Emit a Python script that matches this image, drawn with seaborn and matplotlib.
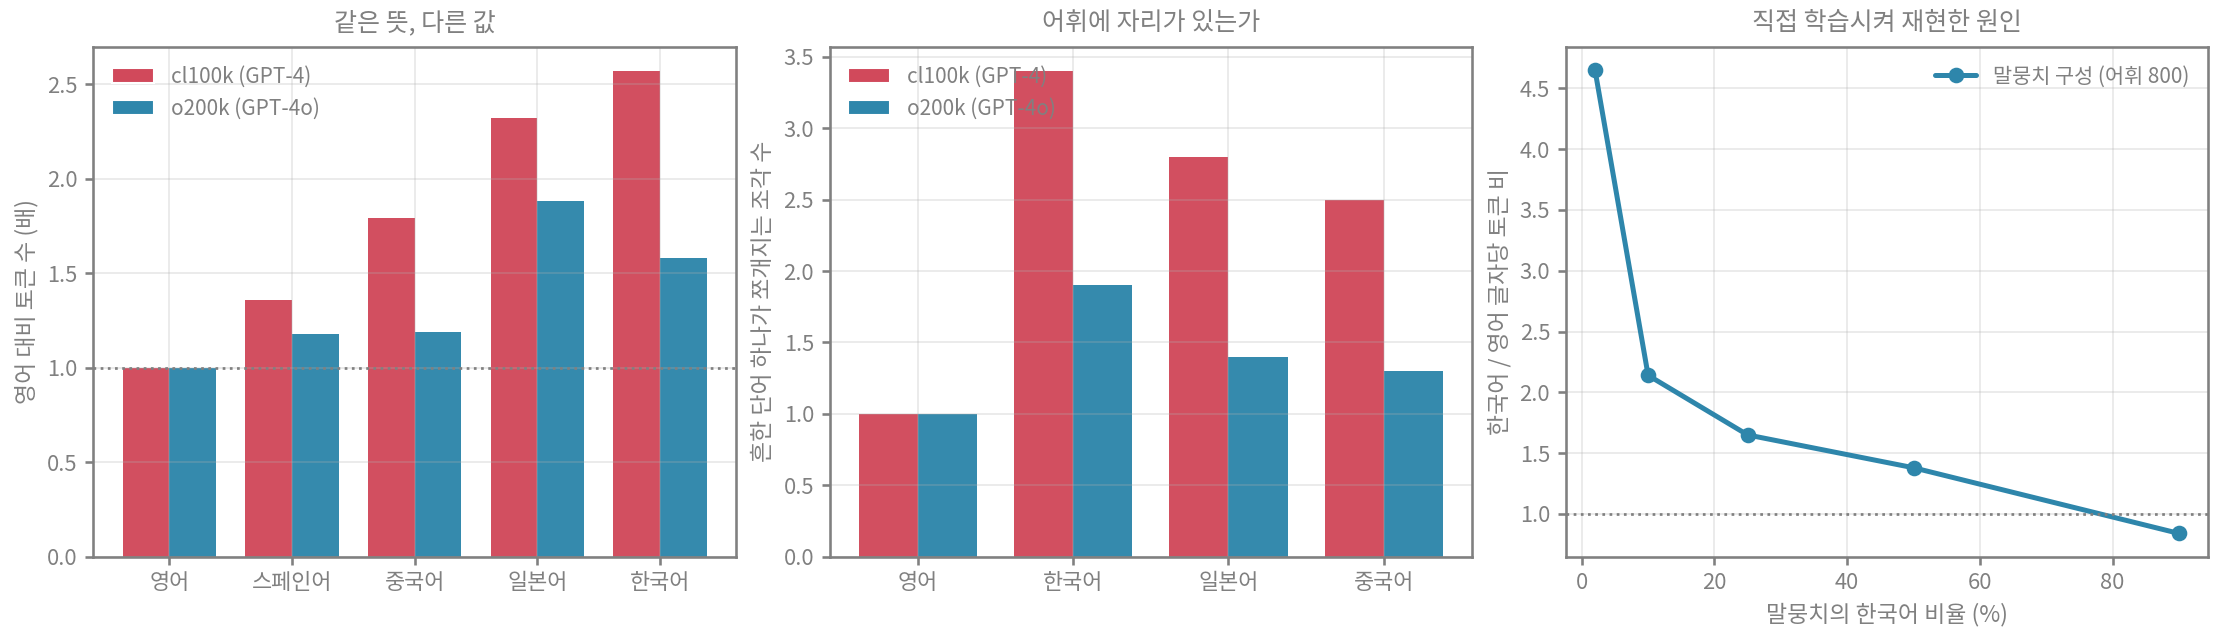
import matplotlib
matplotlib.use("Agg")
import matplotlib.pyplot as plt
import numpy as np
import pandas as pd
import seaborn as sns

# data
langs1 = ["영어", "스페인어", "중국어", "일본어", "한국어"]
cl100k_ratio = [1.00, 1.36, 1.79, 2.32, 2.57]
o200k_ratio = [1.00, 1.18, 1.19, 1.88, 1.58]

langs2 = ["영어", "한국어", "일본어", "중국어"]
cl100k_pieces = [1.0, 3.4, 2.8, 2.5]
o200k_pieces = [1.0, 1.9, 1.4, 1.3]

ko_share = [2, 10, 25, 50, 90]
ko_en_ratio = [4.65, 2.14, 1.65, 1.38, 0.84]

tok_names = ["cl100k (GPT-4)", "o200k (GPT-4o)"]
RED = "#d1495b"
BLUE = "#2e86ab"
GRAY = "#808080"

sns.set_theme(style="ticks")
plt.rcParams["font.family"] = ["Noto Sans CJK KR", "DejaVu Sans"]
plt.rcParams.update({
    "text.color": GRAY,
    "axes.labelcolor": GRAY,
    "axes.titlecolor": GRAY,
    "xtick.color": GRAY,
    "ytick.color": GRAY,
    "axes.edgecolor": GRAY,
    "axes.axisbelow": "line",
    "axes.titlesize": 12,
    "axes.labelsize": 11,
    "xtick.labelsize": 10.5,
    "ytick.labelsize": 10.5,
    "legend.fontsize": 10,
    "xtick.major.size": 4,
    "ytick.major.size": 4,
})

df1 = pd.DataFrame({
    "lang": langs1 * 2,
    "val": cl100k_ratio + o200k_ratio,
    "tok": [tok_names[0]] * len(langs1) + [tok_names[1]] * len(langs1),
})
df2 = pd.DataFrame({
    "lang": langs2 * 2,
    "val": cl100k_pieces + o200k_pieces,
    "tok": [tok_names[0]] * len(langs2) + [tok_names[1]] * len(langs2),
})

fig, axes = plt.subplots(1, 3, figsize=(14.84, 4.28), dpi=150)

for ax, df, title, ylabel in [
    (axes[0], df1, "같은 뜻, 다른 값", "영어 대비 토큰 수 (배)"),
    (axes[1], df2, "어휘에 자리가 있는가", "흔한 단어 하나가 쪼개지는 조각 수"),
]:
    sns.barplot(data=df, x="lang", y="val", hue="tok", palette=[RED, BLUE],
                width=0.76, gap=0, saturation=1, ax=ax)
    ax.autoscale(axis="x")
    ax.grid(True, color="#b0b0b0", alpha=0.3, linewidth=0.8)
    ax.set_title(title, pad=8)
    ax.set_xlabel("")
    ax.set_ylabel(ylabel)
    ax.legend(loc="upper left", frameon=False)
    for b in ax.patches:
        b.set_alpha(0.97)
        b.set_linewidth(0)

axes[0].axhline(1.0, color=GRAY, linestyle=":", linewidth=1.3)

ax = axes[2]
sns.lineplot(x=ko_share, y=ko_en_ratio, marker="o", color=BLUE, linewidth=2.4,
             markersize=7.5, markeredgewidth=0, label="말뭉치 구성 (어휘 800)", ax=ax)
ax.axhline(1.0, color=GRAY, linestyle=":", linewidth=1.3)
ax.grid(True, color="#b0b0b0", alpha=0.3, linewidth=0.8)
ax.set_title("직접 학습시켜 재현한 원인", pad=8)
ax.set_xlabel("말뭉치의 한국어 비율 (%)")
ax.set_ylabel("한국어 / 영어 글자당 토큰 비")
ax.legend(loc="upper right", frameon=False)

for a in axes:
    for s in a.spines.values():
        s.set_color(GRAY)

fig.subplots_adjust(left=0.042, right=0.992, top=0.927, bottom=0.133, wspace=0.146)
plt.savefig("out.png", dpi=150)
